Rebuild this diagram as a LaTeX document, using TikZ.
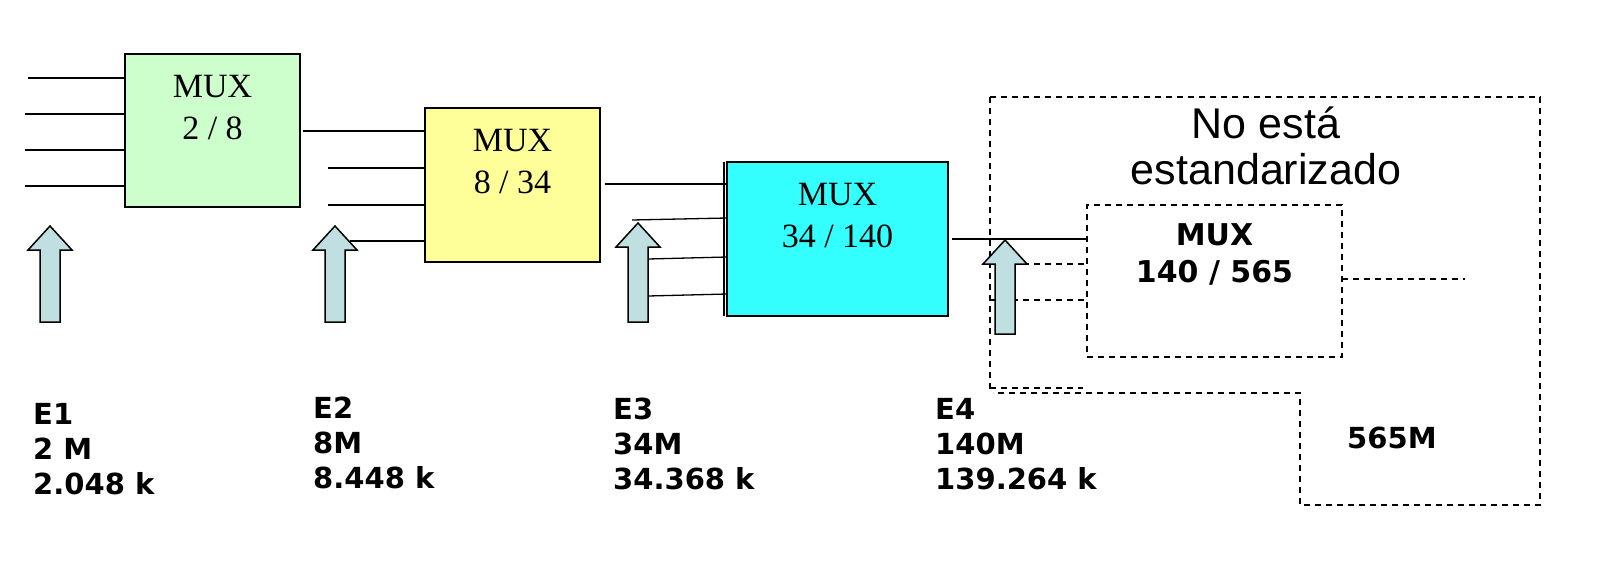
\documentclass[tikz,border=0pt]{standalone}
\usepackage{fontspec}
\setmainfont{Liberation Serif}
\newfontfamily\arialf{Liberation Sans}
\newfontfamily\verdf{DejaVu Sans}
\usetikzlibrary{calc}
\definecolor{gfill}{HTML}{CCFFCC}
\definecolor{yfill}{HTML}{FFFF99}
\definecolor{cfill}{HTML}{33FFFF}
\definecolor{arrowfill}{HTML}{BFDFE1}
\newcommand\bigupar[3]{%
  \draw[bigarrow] (#1,#2) -- (#1+22,#2+24) -- (#1+10,#2+24) -- (#1+10,#3)
    -- (#1-10,#3) -- (#1-10,#2+24) -- (#1-22,#2+24) -- cycle;}
\begin{document}
\begin{tikzpicture}[x=1pt,y=-1pt,
  mux/.style={draw=black, line width=1.5pt, anchor=north west, inner sep=0pt, outer sep=0pt},
  muxtext/.style={font=\fontsize{34}{42}\selectfont, align=center, inner sep=0pt, anchor=north},
  wire/.style={line width=1.3pt},
  dwire/.style={line width=1.3pt, dash pattern=on 6pt off 5pt},
  bigarrow/.style={draw=black, line width=1.5pt, fill=arrowfill},
  lbl/.style={font=\verdf\bfseries\fontsize{29}{35}\selectfont, align=left, anchor=north west, inner sep=0pt},
]
\useasboundingbox[fill=white] (0,0) rectangle (1600,560);

% boxes
\node[mux, fill=gfill, minimum width=175pt, minimum height=153pt] (b1) at (125,54) {};
\node[mux, fill=yfill, minimum width=175pt, minimum height=154pt] (b2) at (425,108) {};
\node[mux, fill=cfill, minimum width=221pt, minimum height=154pt] (b3) at (727,162) {};
\draw[wire] ([xshift=-3pt]b3.north west) -- ([xshift=-3pt]b3.south west);
\node[mux, dwire, minimum width=255pt, minimum height=152pt] (b4) at (1087,205) {};

% box texts
\node[muxtext] (t1) at ($(b1.north)+(0,21)$) {MUX\\2 / 8};
\node[muxtext] (t2) at ($(b2.north)+(0,21)$) {MUX\\8 / 34};
\node[muxtext] (t3) at ($(b3.north)+(0,21)$) {MUX\\34 / 140};
\node[font=\verdf\bfseries\fontsize{30}{37}\selectfont, align=center, inner sep=0pt, anchor=north] (t4) at ($(b4.north)+(0,18)$) {MUX\\140 / 565};

% outer dashed region
\draw[dwire] (990,97) -- (1540,97) -- (1540,505) -- (1300,505) -- (1300,393) -- (993,393);
\draw[dwire] (990,97) -- (990,393);
\draw[dwire] (990,388) -- (1083,388);
\node[font=\arialf\fontsize{43}{46}\selectfont, align=center, inner sep=0pt, anchor=north] (ne) at (1266,107) {No está\\estandarizado};

% wires into box 1
\coordinate (i11) at (28,78);
\coordinate (i12) at (25,114);
\coordinate (i13) at (25,150);
\coordinate (i14) at (25,186);
\foreach \c in {i11,i12,i13,i14} \draw[wire] (\c) -- (\c -| b1.west);
% box1 -> box2
\coordinate (o1) at (303,131);
\draw[wire] (o1) -- (o1 -| b2.west);
% wires into box 2
\coordinate (i21) at (328,168);
\coordinate (i22) at (328,205);
\coordinate (i23) at (350,241);
\foreach \c in {i21,i22,i23} \draw[wire] (\c) -- (\c -| b2.west);
% box2 -> box3
\coordinate (o2) at (605,184);
\draw[wire] (o2) -- (o2 -| b3.west);
% wires into box 3
\coordinate (i31) at (632,220);
\coordinate (i32) at (648,259);
\coordinate (i33) at (648,296);
\foreach \c in {i31,i32,i33} \draw[wire] (\c) -- ($(\c -| b3.west)+(0,-2)$);
% box3 -> box4
\coordinate (o3) at (952,239);
\draw[wire] (o3) -- (o3 -| b4.west);
% dashed wires into box 4
\coordinate (i41) at (990,264);
\coordinate (i42) at (990,300);
\foreach \c in {i41,i42} \draw[dwire] (\c) -- (\c -| b4.west);
% box4 output
\coordinate (o4) at (1465,279);
\draw[dwire] (o4 -| b4.east) -- (o4);

% big arrows
\bigupar{50}{226}{322}
\bigupar{335}{226}{322}
\bigupar{638}{223}{322}
\bigupar{1005}{240}{334}

% labels
\node[lbl] (e1) at (33,403) {E1\\2 M\\2.048 k};
\node[lbl] (e2) at (313,397) {E2\\8M\\8.448 k};
\node[lbl] (e3) at (613,398) {E3\\34M\\34.368 k};
\node[lbl] (e4) at (935,398) {E4\\140M\\139.264 k};
\node[lbl] (e5) at (1347,427) {565M};
\end{tikzpicture}
\end{document}
